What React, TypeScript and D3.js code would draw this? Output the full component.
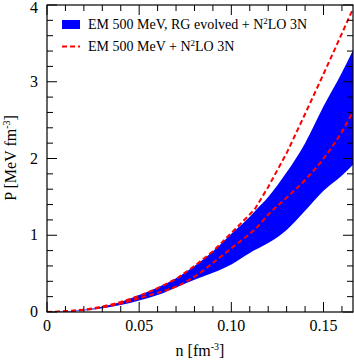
import React from "react";
import * as d3 from "d3";

// density grid [fm^-3]
const nGrid = [0, 0.01, 0.02, 0.03, 0.04, 0.05, 0.06, 0.07, 0.08, 0.09, 0.1, 0.11, 0.113, 0.12, 0.13, 0.14, 0.15, 0.16, 0.166];

// RG evolved band
const bandLow = [0, 0.004, 0.02, 0.05, 0.09, 0.15, 0.22, 0.32, 0.42, 0.51, 0.62, 0.77, 0.81, 0.9, 1.07, 1.32, 1.58, 1.78, 1.92];
const bandHigh = [0, 0.01, 0.03, 0.07, 0.13, 0.22, 0.32, 0.44, 0.6, 0.79, 1.02, 1.24, 1.32, 1.5, 1.82, 2.2, 2.68, 3.12, 3.41];

// unevolved EM 500 MeV + N2LO 3N
const lineHigh = [0, 0.01, 0.03, 0.07, 0.13, 0.21, 0.31, 0.43, 0.6, 0.79, 1.03, 1.27, 1.35, 1.63, 2.07, 2.58, 3.1, 3.63, 3.95];
const lineLow = [0, 0.005, 0.025, 0.06, 0.11, 0.18, 0.25, 0.33, 0.46, 0.64, 0.83, 1.02, 1.08, 1.27, 1.49, 1.72, 2.0, 2.35, 2.61];

const xMajor = [0, 0.05, 0.1, 0.15];
const xLabels = ["0", "0.05", "0.10", "0.15"];
const yMajor = [0, 1, 2, 3, 4];

const W = 354, H = 361;
const M = { left: 47, right: 353, top: 5, bottom: 312 };

export default function App() {
  const x = d3.scaleLinear().domain([0, 0.166]).range([M.left, M.right]);
  const y = d3.scaleLinear().domain([0, 4]).range([M.bottom, M.top]);

  const band = nGrid.map((n, i) => ({ n, lo: bandLow[i], hi: bandHigh[i] }));
  const area = d3.area<any>().x(d => x(d.n)).y0(d => y(d.lo)).y1(d => y(d.hi)).curve(d3.curveMonotoneX);
  const line = d3.line<number>().x((_, i) => x(nGrid[i])).y(d => y(d));
  const smooth = d3.line<number>().x((_, i) => x(nGrid[i])).y(d => y(d)).curve(d3.curveMonotoneX);

  const xMinor = d3.range(0, 0.1661, 0.01).filter(v => !xMajor.some(m => Math.abs(m - v) < 1e-9));
  const yMinor = d3.range(0, 4.001, 0.2).filter(v => !yMajor.some(m => Math.abs(m - v) < 1e-9));

  const font = "Liberation Serif, DejaVu Serif, serif";

  return (
    <svg width={W} height={H} style={{ position: "absolute", left: 0, top: 0, fontFamily: font }}>
      <defs>
        <clipPath id="plot">
          <rect x={M.left} y={M.top} width={M.right - M.left} height={M.bottom - M.top} />
        </clipPath>
      </defs>
      <g clipPath="url(#plot)">
        <path d={area(band) ?? ""} fill="#0000ff" />
        <path d={line(lineHigh) ?? ""} fill="none" stroke="#ff0000" strokeWidth={2} strokeDasharray="5,3" />
        <path d={smooth(lineLow) ?? ""} fill="none" stroke="#ff0000" strokeWidth={2} strokeDasharray="5,3" />
      </g>

      {/* ticks on all four sides, pointing in */}
      <g stroke="#000" strokeWidth={1}>
        {xMajor.map(v => (
          <g key={"xM" + v}>
            <line x1={x(v)} x2={x(v)} y1={M.bottom} y2={M.bottom - 10} />
            <line x1={x(v)} x2={x(v)} y1={M.top} y2={M.top + 10} />
          </g>
        ))}
        {xMinor.map(v => (
          <g key={"xm" + v}>
            <line x1={x(v)} x2={x(v)} y1={M.bottom} y2={M.bottom - 6} />
            <line x1={x(v)} x2={x(v)} y1={M.top} y2={M.top + 6} />
          </g>
        ))}
        {yMajor.map(v => (
          <g key={"yM" + v}>
            <line x1={M.left} x2={M.left + 10} y1={y(v)} y2={y(v)} />
            <line x1={M.right} x2={M.right - 10} y1={y(v)} y2={y(v)} />
          </g>
        ))}
        {yMinor.map(v => (
          <g key={"ym" + v}>
            <line x1={M.left} x2={M.left + 6} y1={y(v)} y2={y(v)} />
            <line x1={M.right} x2={M.right - 6} y1={y(v)} y2={y(v)} />
          </g>
        ))}
      </g>
      <rect x={M.left} y={M.top} width={M.right - M.left} height={M.bottom - M.top} fill="none" stroke="#000" strokeWidth={1.2} />

      {/* tick labels */}
      {xMajor.map((v, i) => (
        <text key={"xl" + v} x={x(v)} y={331} textAnchor="middle" fontSize={16}>{xLabels[i]}</text>
      ))}
      {yMajor.map(v => (
        <text key={"yl" + v} x={38} y={Math.max(y(v) + 5, 13)} textAnchor="end" fontSize={16}>{v}</text>
      ))}

      {/* axis titles */}
      <text x={200} y={356} textAnchor="middle" fontSize={16}>
        n [fm<tspan dy={-6} fontSize={10}>-3</tspan><tspan dy={6}>]</tspan>
      </text>
      <text transform={`translate(16,${158}) rotate(-90)`} textAnchor="middle" fontSize={16}>
        P [MeV fm<tspan dy={-6} fontSize={10}>-3</tspan><tspan dy={6}>]</tspan>
      </text>

      {/* legend */}
      <rect x={62} y={20} width={18} height={9} fill="#0000ff" />
      <text x={88} y={29} fontSize={14}>
        EM 500 MeV, RG evolved + N<tspan dy={-5} fontSize={9}>2</tspan><tspan dy={5}>LO 3N</tspan>
      </text>
      <line x1={62} x2={80} y1={46.5} y2={46.5} stroke="#ff0000" strokeWidth={2} strokeDasharray="5,3" />
      <text x={88} y={51} fontSize={14}>
        EM 500 MeV + N<tspan dy={-5} fontSize={9}>2</tspan><tspan dy={5}>LO 3N</tspan>
      </text>
    </svg>
  );
}
